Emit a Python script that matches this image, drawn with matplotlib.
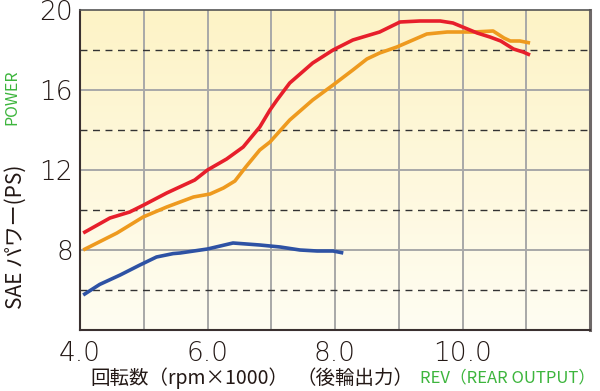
import numpy as np
import matplotlib
matplotlib.use("Agg")
import matplotlib.pyplot as plt
from matplotlib.colors import LinearSegmentedColormap

plt.rcParams['font.family'] = ['Noto Sans CJK JP', 'DejaVu Sans']

# data (rpm x1000, PS)
rpm_red = [4.05, 4.47, 4.78, 5.0, 5.36, 5.8, 6.0, 6.3, 6.56, 6.82, 6.98, 7.09, 7.29,
           7.65, 7.97, 8.28, 8.7, 9.02, 9.33, 9.65, 9.85, 10.23, 10.43, 10.6, 10.8,
           10.95, 11.06]
ps_red = [8.85, 9.6, 9.9, 10.25, 10.85, 11.5, 12.0, 12.55, 13.15, 14.15, 15.0, 15.5,
          16.35, 17.35, 18.0, 18.5, 18.9, 19.4, 19.45, 19.45, 19.35, 18.85, 18.65,
          18.45, 18.05, 17.9, 17.75]

rpm_orange = [4.05, 4.58, 4.99, 5.36, 5.78, 6.04, 6.25, 6.43, 6.6, 6.82, 6.98, 7.29,
              7.65, 7.97, 8.28, 8.5, 8.7, 8.97, 9.44, 9.76, 10.17, 10.48, 10.65,
              10.75, 10.9, 11.06]
ps_orange = [8.0, 8.85, 9.65, 10.15, 10.65, 10.8, 11.1, 11.45, 12.15, 13.0, 13.4, 14.5,
             15.5, 16.25, 17.0, 17.55, 17.85, 18.15, 18.8, 18.9, 18.9, 18.95, 18.6,
             18.45, 18.45, 18.35]

rpm_blue = [4.05, 4.31, 4.63, 4.94, 5.2, 5.46, 5.57, 6.0, 6.4, 6.82, 7.14, 7.45,
            7.72, 7.97, 8.13]
ps_blue = [5.75, 6.28, 6.75, 7.25, 7.65, 7.82, 7.85, 8.05, 8.35, 8.25, 8.15, 8.0,
           7.95, 7.95, 7.85]

xticks = [4, 6, 8, 10]
xticklabels = ['4.0', '6.0', '8.0', '10.0']
yticks = [8, 12, 16, 20]

fig = plt.figure(figsize=(6, 3.91), dpi=100)
ax = fig.add_axes([80/600, 61/391, 510/600, 320/391])
ax.set_xlim(4, 12)
ax.set_ylim(4, 20)

# yellow gradient background
grad = np.linspace(0, 1, 256).reshape(-1, 1)
bg = LinearSegmentedColormap.from_list('bg', ['#fffdf2', '#fdf3c6'])
ax.imshow(grad, extent=[4, 12, 4, 20], origin='lower', aspect='auto', cmap=bg, zorder=0)

# grid
for gx in range(5, 12):
    ax.axvline(gx, color='#a8a8a8', lw=1.4, zorder=1)
for gy in [8, 12, 16]:
    ax.axhline(gy, color='#a8a8a8', lw=1.4, zorder=1)
for gy in [6, 10, 14, 18]:
    ax.axhline(gy, color='#333333', lw=1.0, ls=(0, (5, 4)), zorder=1)

ax.plot(rpm_blue, ps_blue, color='#2e52a4', lw=2.6, solid_capstyle='butt', zorder=3)
ax.plot(rpm_orange, ps_orange, color='#ee9a1e', lw=2.6, solid_capstyle='butt', zorder=3)
ax.plot(rpm_red, ps_red, color='#e71f2b', lw=2.6, solid_capstyle='butt', zorder=4)

ax.spines['left'].set_color('#3a3030')
ax.spines['left'].set_linewidth(1.5)
ax.spines['bottom'].set_color('#3a3030')
ax.spines['bottom'].set_linewidth(1.5)
ax.spines['top'].set_color('#555555')
ax.spines['top'].set_linewidth(1.2)
ax.spines['right'].set_color('#6e6868')
ax.spines['right'].set_linewidth(2.2)

ax.set_xticks(xticks)
ax.set_xticklabels(xticklabels)
ax.set_yticks(yticks)
ax.tick_params(length=0, colors='#231815')
ax.tick_params(axis='x', pad=8)
ax.tick_params(axis='y', pad=5)
for lab in ax.get_xticklabels() + ax.get_yticklabels():
    lab.set_family(['DejaVu Sans'])
    lab.set_fontweight('light')
    lab.set_fontsize(19)

fig.text(16/600, 1 - 237/391, 'SAE パワー(PS)', rotation=90, ha='center', va='center',
         fontsize=15, color='#231815')
fig.text(12/600, 1 - 97/391, 'POWER', rotation=90, ha='center', va='center',
         fontsize=11.5, color='#3db53d')
fig.text(90/600, 1 - 378/391, '回転数（rpm×1000）', ha='left', va='center',
         fontsize=14, color='#231815')
fig.text(296/600, 1 - 378/391, '（後輪出力）', ha='left', va='center',
         fontsize=14, color='#231815')
fig.text(420/600, 1 - 378/391, 'REV（REAR OUTPUT）', ha='left', va='center',
         fontsize=12, color='#3db53d')

fig.savefig('out.png', dpi=100)
